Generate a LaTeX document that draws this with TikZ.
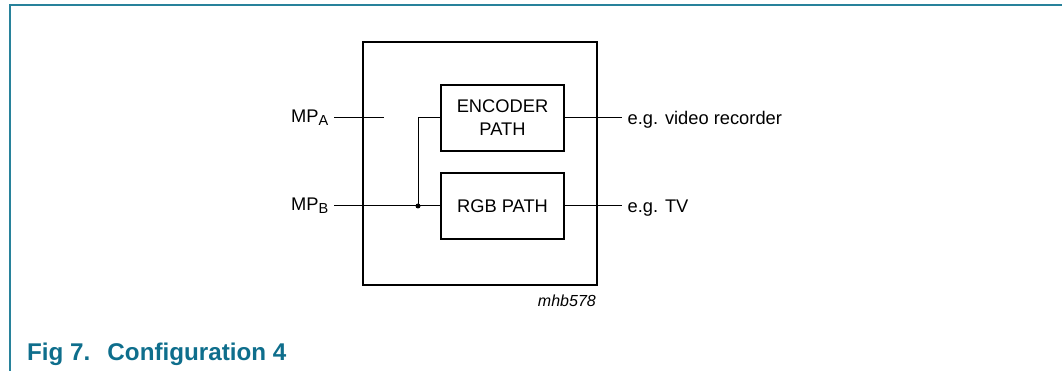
\documentclass[tikz,border=0pt]{standalone}
\usepackage{fontspec}
\setmainfont{Liberation Sans}
\definecolor{capteal}{RGB}{14,110,140}
\definecolor{frameteal}{RGB}{40,130,155}
\begin{document}
\begin{tikzpicture}[x=1pt,y=-1pt,
  lbl/.style={inner sep=0pt,font=\fontsize{18.3}{22}\selectfont},
  blk/.style={draw,line width=2pt,minimum width=123pt,minimum height=66pt,inner sep=0pt,align=center,font=\fontsize{18.3}{23}\selectfont},
  wire/.style={line width=1pt},
  dotn/.style={circle,fill,inner sep=0pt,minimum size=5pt}]
\useasboundingbox (0,0) rectangle (1062,371);
% frame
\coordinate (fr1) at (9.5,371);
\coordinate (fr2) at (9.5,5.5);
\coordinate (fr3) at (1062,5.5);
\draw[frameteal,line width=2pt] (fr1) -- (fr2) -- (fr3);
% outer box
\node[draw,line width=2pt,minimum width=234pt,minimum height=243.3pt,inner sep=0pt] (outer) at (479.7,163.4) {};
% blocks
\node[blk] (enc) at (502.5,118) {ENCODER\\PATH};
\node[blk] (rgb) at (502.5,206) {RGB PATH};
% labels
\node[lbl,anchor=base east] (mpa) at (328.5,122.5) {MP\raisebox{-3.4pt}{\fontsize{14.5}{14}\selectfont A}};
\node[lbl,anchor=base east] (mpb) at (328.5,210.5) {MP\raisebox{-3.4pt}{\fontsize{14.5}{14}\selectfont B}};
\node[lbl,anchor=base west] (vr) at (627.5,124.5) {e.g. video recorder};
\node[lbl,anchor=base west] (tv) at (627.5,212.5) {e.g. TV};
\node[inner sep=0pt,anchor=base east,font=\fontsize{16}{18}\selectfont\itshape] (code) at (596,306) {mhb578};
\node[inner sep=0pt,anchor=base west,text=capteal,font=\fontsize{24.2}{28}\selectfont\bfseries] (cap) at (27,360.7) {\makebox[80.3pt][l]{Fig 7.}Configuration 4};
% wires
\coordinate (a) at (334,118);
\coordinate (ai) at (384,118);
\coordinate (b) at (334,206);
\coordinate (oe) at (622,118);
\coordinate (ot) at (622,206);
\node[dotn] (j) at (418,206) {};
\draw[wire] (a) -- (ai);
\draw[wire] (b) -- (rgb.west);
\draw[wire] (j.center) |- (enc.west);
\draw[wire] (enc.east) -- (oe);
\draw[wire] (rgb.east) -- (ot);
\end{tikzpicture}
\end{document}
